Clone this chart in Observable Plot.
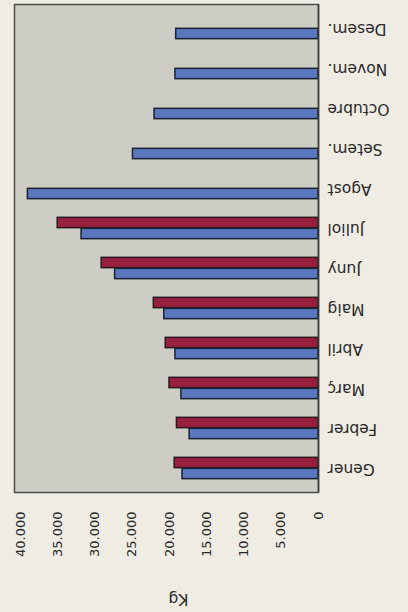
<!DOCTYPE html>
<html>
<head>
<meta charset="utf-8">
<script src="https://cdn.jsdelivr.net/npm/d3@7"></script>
<script src="https://cdn.jsdelivr.net/npm/@observablehq/plot@0.6"></script>
<style>
  html, body { margin: 0; padding: 0; background: #efece3; }
  #chart svg { display: block; }
</style>
</head>
<body>
<div id="chart"></div>
<script>
// Months (Catalan) and monthly quantities in Kg
const months = ["Gener", "Febrer", "Març", "Abril", "Maig", "Juny", "Juliol", "Agost", "Setem.", "Octubre", "Novem.", "Desem."];
const serieBlava = [18250, 17300, 18400, 19200, 20700, 27300, 31800, 39000, 24900, 22000, 19200, 19100];
const serieVermella = [19300, 19000, 20000, 20500, 22100, 29100, 35000, null, null, null, null, null];
const ticks = [0, 5000, 10000, 15000, 20000, 25000, 30000, 35000, 40000];
const axisTitle = "Kg";

const blue = months.map((m, i) => ({month: m, value: serieBlava[i]}));
const red = months.map((m, i) => ({month: m, value: serieVermella[i]})).filter(d => d.value != null);

const fmt = d => d === 0 ? "0" : d3.format(",")(d).replace(/,/g, ".");
const font = "DejaVu Sans, sans-serif";

const half = 488 / 12 / 2;
const barH = 11;

const plot = Plot.plot({
  width: 408,
  height: 612,
  marginTop: 4,
  marginBottom: 120,
  marginLeft: 14,
  marginRight: 90,
  style: {background: "transparent", fontFamily: font},
  x: {domain: [0, 40800], reverse: true, axis: null},
  y: {domain: months.slice().reverse(), padding: 0, axis: null},
  marks: [
    Plot.frame({fill: "#cecdc5", stroke: "#4d4d4a", strokeWidth: 1.5}),
    Plot.barX(red, {x: "value", y: "month", fill: "#981f3d", stroke: "#2a1a20", strokeWidth: 1.5,
      insetTop: half - barH, insetBottom: half}),
    Plot.barX(blue, {x: "value", y: "month", fill: "#5877bd", stroke: "#1d2233", strokeWidth: 1.5,
      insetTop: half, insetBottom: half - barH}),
    Plot.ruleX([0], {stroke: "#3a3a3a", strokeWidth: 1.5}),
    Plot.text(months, {x: () => 0, y: d => d, text: d => d, rotate: 180, textAnchor: "end",
      dx: 9, fontSize: 15.5, fill: "#2a2a2a", fontFamily: font}),
    Plot.text(ticks, {x: d => d, frameAnchor: "bottom", dy: 19, rotate: -90, textAnchor: "end",
      lineAnchor: "middle", text: fmt, fontSize: 13, fill: "#2a2a2a", fontFamily: font}),
    Plot.text([axisTitle], {frameAnchor: "bottom", dx: 12, dy: 101, rotate: 180, text: d => d,
      fontSize: 15.5, fill: "#2a2a2a", fontFamily: font})
  ]
});
document.getElementById("chart").appendChild(plot);
</script>
</body>
</html>
